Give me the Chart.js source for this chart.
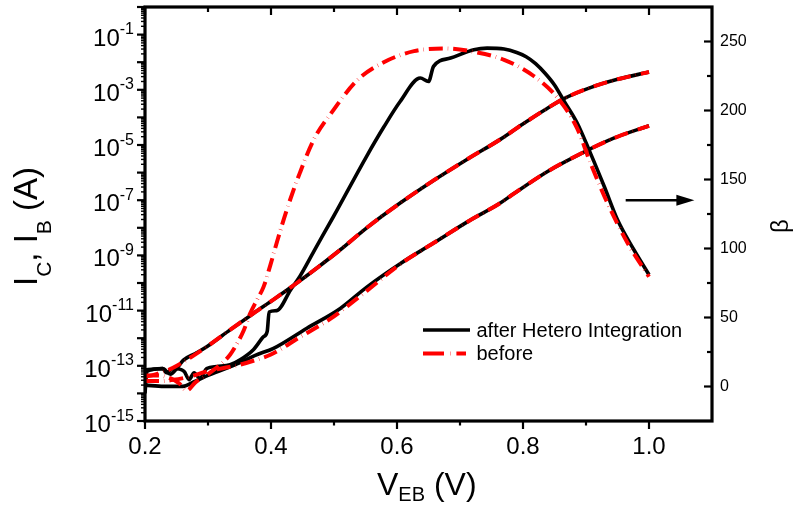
<!DOCTYPE html>
<html>
<head>
<meta charset="utf-8">
<script src="https://cdn.jsdelivr.net/npm/chart.js@4/dist/chart.umd.min.js"></script>
<style>
  html, body { margin: 0; padding: 0; background: #fff; }
  #c { display: block; }
</style>
</head>
<body>
<canvas id="c" width="798" height="510"></canvas>
<script>
const FONT = '"Liberation Sans", Arial, Helvetica, sans-serif';

// ---- collector current I_C (A) vs V_EB (V) ----
const vIc = [0.200, 0.215, 0.228, 0.240, 0.252, 0.261, 0.280, 0.298, 0.335, 0.372, 0.405, 0.441,
             0.475, 0.510, 0.552, 0.605, 0.658, 0.711, 0.764, 0.801, 0.835, 0.865, 0.907, 0.950, 1.000];
const icAfter = [7.1e-14, 7.6e-14, 7.9e-14, 5.0e-14, 8.9e-14, 1.6e-13, 2.8e-13, 4.9e-13, 2.0e-12, 7.9e-12, 2.6e-11, 1.0e-10,
                 3.8e-10, 1.6e-9, 1.0e-8, 7.9e-8, 5.2e-7, 3.0e-6, 1.6e-5, 6.0e-5, 1.9e-4, 4.8e-4, 1.2e-3, 2.4e-3, 4.4e-3];
const icBefore = [4.0e-14, 4.8e-14, 6.0e-14, 7.6e-14, 1.05e-13, 1.4e-13, 2.6e-13, 4.9e-13, 2.0e-12, 7.9e-12, 2.6e-11, 1.0e-10,
                  3.8e-10, 1.6e-9, 1.0e-8, 7.9e-8, 5.2e-7, 3.0e-6, 1.6e-5, 6.0e-5, 1.9e-4, 4.8e-4, 1.2e-3, 2.4e-3, 4.4e-3];

// ---- base current I_B (A) ----
const vIbAfter = [0.200, 0.230, 0.260, 0.280, 0.300, 0.330, 0.351, 0.375, 0.404, 0.457, 0.510, 0.552,
                  0.605, 0.658, 0.711, 0.764, 0.785, 0.839, 0.892, 0.945, 1.000];
const ibAfter = [2.0e-14, 1.8e-14, 1.8e-14, 2.8e-14, 4.5e-14, 8.3e-14, 1.3e-13, 2.4e-13, 4.3e-13, 2.3e-12, 1.2e-11, 7.1e-11,
                 5.0e-10, 2.8e-9, 1.6e-8, 7.9e-8, 1.7e-7, 1.1e-6, 4.9e-6, 1.8e-5, 5.0e-5];
const vIbBefore = [0.200, 0.225, 0.245, 0.270, 0.298, 0.325, 0.351, 0.375, 0.399, 0.446, 0.494, 0.552,
                   0.605, 0.658, 0.711, 0.764, 0.785, 0.839, 0.892, 0.945, 1.000];
const ibBefore = [2.8e-14, 2.8e-14, 3.1e-14, 4.0e-14, 6.2e-14, 8.3e-14, 1.1e-13, 1.6e-13, 2.5e-13, 1.1e-12, 5.0e-12, 5.2e-11,
                  4.8e-10, 2.8e-9, 1.6e-8, 7.9e-8, 1.7e-7, 1.1e-6, 4.9e-6, 1.8e-5, 4.9e-5];

// ---- current gain beta ----
const vBetaAfter = [0.200, 0.203, 0.228, 0.234, 0.245, 0.262, 0.270, 0.278, 0.287, 0.298, 0.314, 0.335, 0.351,
                    0.372, 0.388, 0.394, 0.397, 0.409, 0.431, 0.446, 0.468, 0.499, 0.552, 0.579, 0.605, 0.637,
                    0.650, 0.658, 0.685, 0.722, 0.743, 0.770, 0.790, 0.805, 0.820, 0.835, 0.850, 0.865, 0.886,
                    0.907, 0.929, 0.950, 0.976, 1.000];
const betaAfter = [-5, 11, 13, 10, 13, 11, 5, 10, 6, 13, 14.5, 15.7, 19.3,
                   26.6, 36, 40, 54, 55, 70, 80, 98, 123, 167, 188, 206.5, 223.5,
                   221, 232, 238, 244, 245.2, 244.5, 242, 239, 234, 227, 218.5, 207, 190.9,
                   169.1, 144.9, 120.8, 99.1, 81];
const vBetaBefore = [0.200, 0.220, 0.240, 0.255, 0.266, 0.280, 0.300, 0.320, 0.335, 0.346, 0.357, 0.367, 0.378,
                     0.388, 0.399, 0.409, 0.425, 0.446, 0.468, 0.497, 0.537, 0.579, 0.627, 0.677, 0.722, 0.770,
                     0.817, 0.857, 0.886, 0.907, 0.934, 0.966, 1.000];
const betaBefore = [8, 8, 6, 2, -3, 3, 9, 16, 23, 31, 41, 53, 63,
                    72, 88, 104, 128, 155, 179, 199, 222, 235, 243, 245, 242.5, 236.7,
                    225, 208, 187, 162, 133, 104, 79.5];

// ---- axis ticks ----
const xTickValues = [0.2, 0.4, 0.6, 0.8, 1.0];
const xMinorValues = [0.3, 0.5, 0.7, 0.9];
const logLabelExps = [-15, -13, -11, -9, -7, -5, -3, -1];
const betaTickValues = [0, 50, 100, 150, 200, 250];
const betaMinorValues = [25, 75, 125, 175, 225];

// ---- legend and annotation ----
const seriesNames = ['after Hetero Integration', 'before'];
const arrowBeta = 135;
const arrowFrom = 0.963, arrowTo = 1.072;

const RED = '#ff0000';
const RED_DASH = [14, 5, 0.4, 5];

function series(label, xs, ys, axis, color, dash, width, order) {
  return {
    label,
    data: xs.map((v, i) => ({ x: v, y: ys[i] })),
    yAxisID: axis,
    borderColor: color,
    borderWidth: width,
    borderDash: dash,
    borderCapStyle: 'butt',
    borderJoinStyle: 'round',
    pointRadius: 0,
    cubicInterpolationMode: 'monotone',
    fill: false,
    order
  };
}

function drawRich(ctx, parts, x, y) {
  let cx = x;
  for (const p of parts) {
    ctx.font = p.size + 'px ' + FONT;
    ctx.fillText(p.t, cx, y + (p.dy || 0));
    cx += ctx.measureText(p.t).width;
  }
}

// fixed axis boxes so the plot frame sits at 145..712 x 7..421
function noPad(s) {
  s.paddingTop = 0; s.paddingBottom = 0; s.paddingLeft = 0; s.paddingRight = 0;
}

const framePlugin = {
  id: 'frameAndLabels',
  afterDatasetsDraw(chart) {
    const { ctx, chartArea: a, scales } = chart;
    const sx = scales.x, yl = scales.y, yr = scales.y2;
    ctx.save();
    ctx.strokeStyle = '#000';
    ctx.fillStyle = '#000';
    ctx.lineCap = 'butt';
    const seg = (x1, y1, x2, y2) => { ctx.beginPath(); ctx.moveTo(x1, y1); ctx.lineTo(x2, y2); ctx.stroke(); };

    // bottom ticks point outward, top ticks point inward
    ctx.lineWidth = 2.2;
    xTickValues.forEach(v => {
      const p = sx.getPixelForValue(v);
      seg(p, a.bottom, p, a.bottom + 8);
      seg(p, a.top, p, a.top + 8);
    });
    xMinorValues.forEach(v => {
      const p = sx.getPixelForValue(v);
      seg(p, a.bottom, p, a.bottom + 4.5);
      seg(p, a.top, p, a.top + 5);
    });

    // left log axis: decade ticks outward plus 2..9 sub-ticks
    for (let e = -15; e <= 0; e++) {
      const p = yl.getPixelForValue(Math.pow(10, e));
      seg(a.left - 8, p, a.left, p);
    }
    ctx.lineWidth = 1.4;
    for (let e = -15; e < 0; e++) {
      for (let m = 2; m <= 9; m++) {
        const p = yl.getPixelForValue(m * Math.pow(10, e));
        seg(a.left - 4, p, a.left, p);
      }
    }

    // right beta axis: ticks point inward
    ctx.lineWidth = 2.2;
    betaTickValues.forEach(v => {
      const p = yr.getPixelForValue(v);
      seg(a.right - 8, p, a.right, p);
    });
    betaMinorValues.forEach(v => {
      const p = yr.getPixelForValue(v);
      seg(a.right - 5, p, a.right, p);
    });

    // frame
    ctx.lineWidth = 3.2;
    ctx.strokeRect(a.left, a.top, a.right - a.left, a.bottom - a.top);

    // left tick labels 10^n
    ctx.textBaseline = 'alphabetic';
    ctx.textAlign = 'left';
    logLabelExps.forEach(e => {
      const p = yl.getPixelForValue(Math.pow(10, e));
      const exp = String(e);
      ctx.font = '16px ' + FONT;
      const we = ctx.measureText(exp).width;
      ctx.font = '24px ' + FONT;
      const wb = ctx.measureText('10').width;
      const right = a.left - 11;
      ctx.fillText('10', right - we - wb, p + 11);
      ctx.font = '16px ' + FONT;
      ctx.fillText(exp, right - we, p - 0.5);
    });

    // x axis title V_EB (V)
    drawRich(ctx, [
      { t: 'V', size: 32 },
      { t: 'EB', size: 20, dy: 6 },
      { t: ' (V)', size: 32 }
    ], 377, 495);

    // left axis title I_C, I_B (A)
    ctx.save();
    ctx.translate(37, 286);
    ctx.rotate(-Math.PI / 2);
    drawRich(ctx, [
      { t: 'I', size: 33 },
      { t: 'C', size: 21, dy: 14 },
      { t: ', ', size: 33 },
      { t: 'I', size: 33 },
      { t: 'B', size: 21, dy: 14 },
      { t: ' (A)', size: 33 }
    ], 0, 0);
    ctx.restore();

    // right axis title
    ctx.save();
    ctx.translate(788, 226);
    ctx.rotate(-Math.PI / 2);
    ctx.textAlign = 'center';
    ctx.font = '24px ' + FONT;
    ctx.fillText('\u03B2', 0, 0);
    ctx.restore();

    // legend
    ctx.lineWidth = 3.6;
    ctx.strokeStyle = '#000';
    seg(423, 330, 470, 330);
    ctx.strokeStyle = RED;
    ctx.lineWidth = 4;
    ctx.setLineDash([21, 6, 0.4, 6]);
    seg(423, 353.5, 466, 353.5);
    ctx.setLineDash([]);
    ctx.fillStyle = '#000';
    ctx.font = '20px ' + FONT;
    ctx.textAlign = 'left';
    ctx.fillText(seriesNames[0], 476.5, 337);
    ctx.fillText(seriesNames[1], 476.5, 360);

    // arrow pointing to the beta axis
    const ay = yr.getPixelForValue(arrowBeta);
    const ax1 = sx.getPixelForValue(arrowFrom), ax2 = sx.getPixelForValue(arrowTo);
    ctx.strokeStyle = '#000';
    ctx.lineWidth = 2.6;
    seg(ax1, ay, ax2 - 12, ay);
    ctx.beginPath();
    ctx.moveTo(ax2, ay);
    ctx.lineTo(ax2 - 18, ay - 5.5);
    ctx.lineTo(ax2 - 18, ay + 5.5);
    ctx.closePath();
    ctx.fill();

    ctx.restore();
  }
};

const whiteBg = {
  id: 'whiteBg',
  beforeDraw(chart) {
    const c = chart.ctx;
    c.save();
    c.fillStyle = '#fff';
    c.fillRect(0, 0, chart.width, chart.height);
    c.restore();
  }
};

new Chart(document.getElementById('c'), {
  type: 'line',
  data: {
    datasets: [
      series('I_C ' + seriesNames[0], vIc, icAfter, 'y', '#000', [], 3.6, 2),
      series('I_B ' + seriesNames[0], vIbAfter, ibAfter, 'y', '#000', [], 3.6, 2),
      series('beta ' + seriesNames[0], vBetaAfter, betaAfter, 'y2', '#000', [], 3.6, 2),
      series('I_C ' + seriesNames[1], vIc, icBefore, 'y', RED, RED_DASH, 4, 1),
      series('I_B ' + seriesNames[1], vIbBefore, ibBefore, 'y', RED, RED_DASH, 4, 1),
      series('beta ' + seriesNames[1], vBetaBefore, betaBefore, 'y2', RED, RED_DASH, 4, 1)
    ]
  },
  options: {
    responsive: false,
    animation: false,
    events: [],
    layout: { padding: { top: 7, left: 0, right: 0, bottom: 0 } },
    plugins: { legend: { display: false }, tooltip: { enabled: false } },
    scales: {
      x: {
        type: 'linear',
        position: 'bottom',
        min: 0.2,
        max: 1.1,
        afterBuildTicks: s => { s.ticks = xTickValues.map(v => ({ value: v })); },
        afterFit: s => { s.height = 89; noPad(s); },
        grid: { display: false, drawTicks: false },
        border: { display: false },
        ticks: {
          font: { family: FONT, size: 24 },
          color: '#000',
          padding: 12,
          maxRotation: 0,
          autoSkip: false,
          callback: v => Number(v).toFixed(1)
        }
      },
      y: {
        type: 'logarithmic',
        position: 'left',
        min: 1e-15,
        max: 1,
        afterFit: s => { s.width = 145; noPad(s); },
        grid: { display: false, drawTicks: false },
        border: { display: false },
        ticks: { display: false }
      },
      y2: {
        type: 'linear',
        position: 'right',
        min: -25,
        max: 275,
        afterBuildTicks: s => { s.ticks = betaTickValues.map(v => ({ value: v })); },
        afterFit: s => { s.width = 86; noPad(s); },
        grid: { display: false, drawTicks: false },
        border: { display: false },
        ticks: {
          font: { family: FONT, size: 16 },
          color: '#000',
          padding: 8,
          autoSkip: false,
          callback: v => String(v)
        }
      }
    }
  },
  plugins: [whiteBg, framePlugin]
});
</script>
</body>
</html>
